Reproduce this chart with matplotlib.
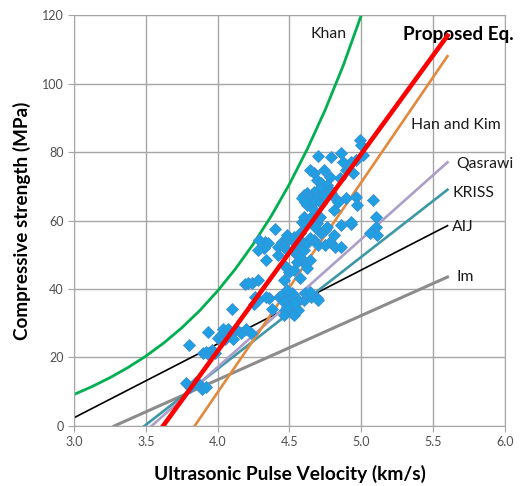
import numpy as np
import matplotlib
matplotlib.use('Agg')
import matplotlib.pyplot as plt

plt.rcParams['font.family'] = ['Lato', 'DejaVu Sans']

# measured points: pulse velocity (km/s) and compressive strength (MPa)
upv = [3.78, 3.81, 3.85, 3.88, 3.89, 3.92,
       3.80, 3.90, 3.92, 3.94, 3.96, 3.98, 3.93,
       4.00, 4.02, 4.04, 4.05, 4.07, 4.09, 4.11, 4.13, 4.16, 4.20, 4.23,
       4.10, 4.25, 4.26, 4.28, 4.38, 4.36, 4.19, 4.24, 4.21, 4.28, 4.34,
       4.43, 4.46, 4.48, 4.50, 4.47, 4.52, 4.56, 4.60, 4.64, 4.69, 4.45,
       4.48, 4.52, 4.61, 4.46, 4.56, 4.65, 4.70, 4.48, 4.48, 4.53, 4.46,
       4.53, 4.64,
       4.40, 4.33, 4.35, 4.32, 4.28, 4.29, 4.45, 4.48, 4.42, 4.46, 4.54,
       4.57, 4.53, 4.56, 4.34, 4.42, 4.48, 4.50, 4.57, 4.60, 4.55, 4.47,
       4.53, 4.46, 4.64, 4.62, 4.57, 4.60, 4.48, 4.48, 4.53, 4.57, 4.62,
       4.67, 4.70, 4.75, 4.78, 4.82, 4.86, 4.59, 4.69, 4.72, 4.75, 4.81,
       4.93, 5.10, 5.11, 5.06, 4.62, 4.60, 4.67, 4.61, 4.68, 4.57, 4.64,
       4.99, 5.00, 5.01, 4.96, 4.93, 4.87, 4.86, 4.79, 4.70, 4.89, 4.94,
       4.85, 4.78, 4.74, 4.67, 4.64, 4.69, 4.72, 4.76, 4.78, 4.71, 4.67,
       4.62, 4.60, 4.59, 4.64, 4.69, 4.74, 4.79, 4.67, 4.61, 4.72, 4.82,
       4.84, 4.89, 4.96, 4.97, 5.08, 5.10, 4.93, 4.81, 4.67, 4.64, 4.71,
       4.76, 4.86]
fc = [12.5, 11.5, 12.8, 12.0, 10.7, 11.5,
      23.6, 21.2, 21.7, 20.7, 22.2, 21.4, 27.3,
      25.8, 26.6, 28.2, 25.3, 28.2, 27.1, 25.3, 28.2, 27.1, 28.2, 27.1,
      34.1, 35.6, 37.8, 36.8, 34.1, 37.3, 41.4, 41.7, 41.7, 42.6, 37.8,
      37.8, 38.7, 36.8, 34.8, 33.9, 32.9, 33.9, 36.8, 38.7, 37.3, 38.2,
      37.3, 38.7, 38.7, 36.3, 36.8, 37.8, 36.8, 39.7, 34.8, 35.8, 32.4,
      32.4, 39.2,
      57.4, 53.8, 53.3, 51.9, 51.4, 54.3, 53.8, 54.3, 52.4, 52.4, 53.3,
      52.4, 50.9, 50.4, 48.5, 49.9, 46.0, 45.1, 43.1, 47.5, 48.0, 46.8,
      45.5, 42.6, 48.5, 46.0, 49.4, 51.4, 51.4, 55.8, 55.3, 54.3, 53.3,
      54.3, 52.8, 52.8, 53.8, 52.4, 52.4, 59.7, 59.2, 56.3, 57.2, 55.8,
      59.0, 58.2, 55.8, 56.3, 64.5, 61.1, 61.6, 58.7, 58.2, 56.3, 54.8,
      83.5, 82.0, 79.1, 77.7, 77.2, 77.2, 79.6, 78.6, 78.8, 74.7, 73.8,
      72.3, 72.8, 74.7, 73.8, 74.7, 71.8, 70.9, 70.4, 68.9, 69.4, 68.4,
      67.9, 67.4, 66.5, 66.5, 67.0, 67.4, 67.9, 65.5, 65.5, 65.0, 66.5,
      65.5, 66.5, 67.0, 64.5, 66.0, 61.1, 59.7, 63.1, 63.1, 60.6, 61.1,
      58.2, 58.7]

# Khan curve
khan_v = [3.0, 3.125, 3.25, 3.375, 3.5, 3.625, 3.75, 3.875, 4.0, 4.125,
          4.25, 4.375, 4.5, 4.625, 4.75, 4.875, 5.0]
khan_fc = [9.2, 11.5, 14.1, 17.05, 20.4, 24.25, 28.65, 33.7, 39.45, 45.95,
           53.25, 61.45, 70.65, 80.95, 92.45, 105.35, 120.0]

# straight relations: end points
prop_v, prop_fc = [3.62, 5.6], [0, 114]
han_v, han_fc = [3.84, 5.6], [0, 108]
qas_v, qas_fc = [3.54, 5.6], [0, 77]
kriss_v, kriss_fc = [3.49, 5.6], [0, 69]
aij_v, aij_fc = [3.0, 5.6], [2.4, 58.5]
im_v, im_fc = [3.28, 5.6], [0, 43.5]

fig = plt.figure(figsize=(5.23, 4.86), dpi=100)
ax = fig.add_axes([0.1415, 0.1235, 0.824, 0.8455])

ax.plot(khan_v, khan_fc, color='#00b050', lw=2.0, zorder=2)
ax.plot(im_v, im_fc, color='#8c8c8c', lw=2.2, zorder=2)
ax.plot(aij_v, aij_fc, color='black', lw=1.2, zorder=2)
ax.plot(kriss_v, kriss_fc, color='#3e97a6', lw=1.9, zorder=2)
ax.plot(qas_v, qas_fc, color='#ab9ec8', lw=1.9, zorder=2)
ax.plot(han_v, han_fc, color='#e2893c', lw=1.9, zorder=2)
ax.plot(upv, fc, ls='none', marker='D', ms=6.2, mfc='#1ea0e2', mec='#3d8fd6',
        mew=0.6, zorder=3)
ax.plot(prop_v, prop_fc, color='#ff0000', lw=3.3, zorder=4)

lab = dict(fontsize=11.3, color='#1a1a1a', va='center', ha='left')
ax.text(4.647, 114.6, 'Khan', **lab)
ax.text(5.287, 114.2, 'Proposed Eq.', fontsize=13.6, fontweight='bold',
        va='center', ha='left', clip_on=False)
ax.text(5.343, 87.9, 'Han and Kim', **lab)
ax.text(5.663, 76.4, 'Qasrawi', **lab)
ax.text(5.633, 67.9, 'KRISS', **lab)
ax.text(5.633, 58.2, 'AIJ', **lab)
ax.text(5.663, 43.6, 'Im', **lab)

ax.set_xlim(3.0, 6.0)
ax.set_ylim(0, 120)
ax.set_xticks(np.arange(3.0, 6.01, 0.5))
ax.set_xticklabels(['3.0', '3.5', '4.0', '4.5', '5.0', '5.5', '6.0'])
ax.set_yticks(range(0, 121, 20))
ax.grid(True, color='#a6a6a6', lw=1.0)
ax.set_axisbelow(True)
for s in ax.spines.values():
    s.set_color('#a6a6a6')
ax.tick_params(colors='#a6a6a6', labelcolor='#505050', labelsize=9,
               length=4, direction='out')

ax.set_xlabel('Ultrasonic Pulse Velocity (km/s)', fontsize=13.8,
              fontweight='bold', labelpad=12)
ax.set_ylabel('Compressive strength (MPa)', fontsize=13.6,
              fontweight='bold', labelpad=8)

fig.savefig('out.png', dpi=100)
